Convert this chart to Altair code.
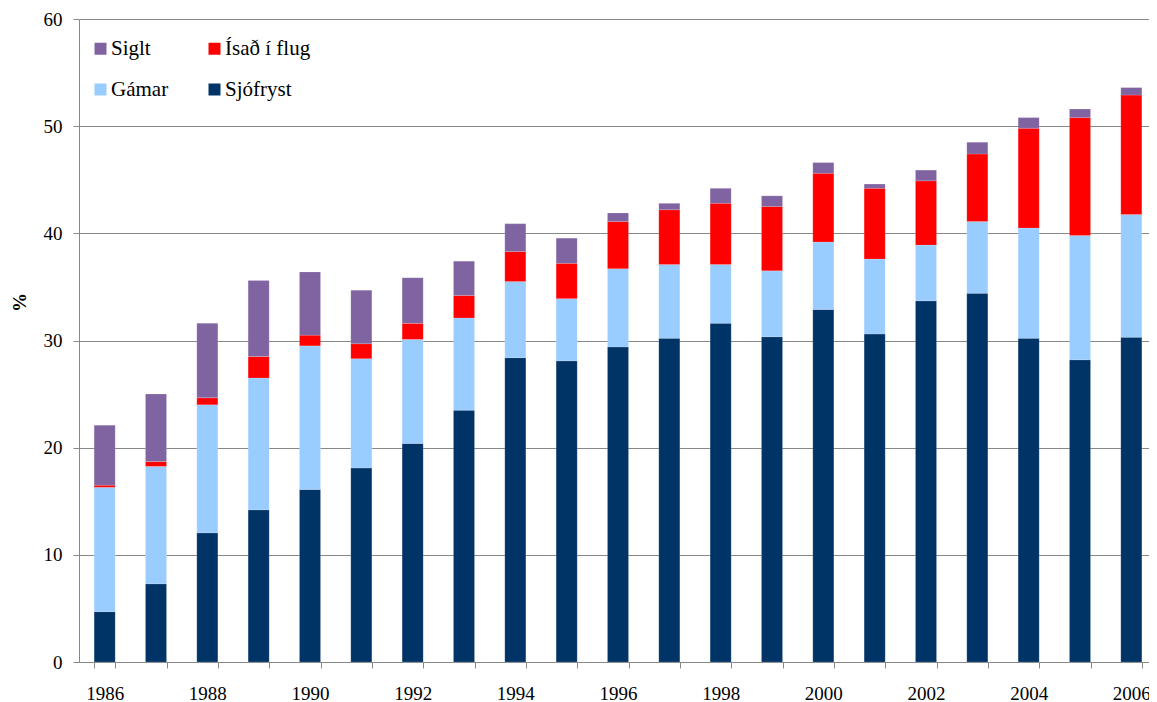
import altair as alt
import pandas as pd

years = list(range(1986, 2007))
sjofryst = [4.7, 7.3, 12.05, 14.2, 16.1, 18.1, 20.4, 23.5, 28.4, 28.1, 29.4,
            30.2, 31.6, 30.35, 32.9, 30.6, 33.7, 34.4, 30.2, 28.2, 30.3]
gamar = [11.6, 10.95, 11.95, 12.3, 13.4, 10.2, 9.7, 8.6, 7.1, 5.8, 7.3,
         6.9, 5.5, 6.15, 6.3, 7.0, 5.2, 6.7, 10.3, 11.6, 11.45]
isad = [0.2, 0.45, 0.65, 2.0, 1.0, 1.4, 1.5, 2.1, 2.8, 3.3, 4.4,
        5.1, 5.7, 6.0, 6.4, 6.6, 6.0, 6.3, 9.3, 11.0, 11.15]
siglt = [5.6, 6.3, 6.95, 7.1, 5.9, 5.0, 4.25, 3.2, 2.6, 2.35, 0.8,
         0.6, 1.4, 1.0, 1.0, 0.4, 1.0, 1.1, 1.0, 0.8, 0.7]

series_names = ["Sjófryst", "Gámar", "Ísað í flug", "Siglt"]
series_values = [sjofryst, gamar, isad, siglt]
# legend is filled column by column: column 1 = Siglt, Gámar; column 2 = Ísað í flug, Sjófryst
legend_order = ["Siglt", "Gámar", "Ísað í flug", "Sjófryst"]
legend_colors = ["#8064A2", "#99CCFF", "#FF0000", "#003366"]

rows = []
for rank, (name, vals) in enumerate(zip(series_names, series_values)):
    for yr, v in zip(years, vals):
        rows.append({"year": yr, "series": name, "value": v, "rank": rank})
df = pd.DataFrame(rows)

FONT = "Liberation Serif"

chart = alt.Chart(df).mark_bar(stroke="#ffffff", strokeOpacity=0.25, strokeWidth=0.6).encode(
    x=alt.X(
        "year:O",
        scale=alt.Scale(paddingInner=0.59, paddingOuter=0.295),
        axis=alt.Axis(
            title=None,
            labelAngle=0,
            labelExpr="datum.value % 2 == 0 ? datum.label : ''",
            labelOverlap=False,
            labelFont=FONT,
            labelFontSize=19,
            labelColor="#000000",
            labelPadding=16,
            tickBand="extent",
            tickSize=6,
            tickColor="#888888",
            domainColor="#888888",
            grid=False,
        ),
    ),
    y=alt.Y(
        "value:Q",
        stack="zero",
        scale=alt.Scale(domain=[0, 60], nice=False),
        axis=alt.Axis(
            title="%",
            titleFont=FONT,
            titleFontSize=19,
            titleFontWeight="bold",
            titleColor="#000000",
            titleX=-60,
            titleY=283,
            titleAngle=270,
            titleAlign="center",
            titleBaseline="middle",
            values=[0, 10, 20, 30, 40, 50, 60],
            labelFont=FONT,
            labelFontSize=19,
            labelColor="#000000",
            labelPadding=11,
            tickSize=6,
            tickColor="#888888",
            domainColor="#888888",
            grid=True,
            gridColor="#888888",
            gridWidth=1,
        ),
    ),
    color=alt.Color(
        "series:N",
        scale=alt.Scale(domain=legend_order, range=legend_colors),
        legend=alt.Legend(
            title=None,
            orient="none",
            legendX=11,
            legendY=19,
            columns=2,
            columnPadding=35,
            rowPadding=19,
            padding=0,
            symbolType="square",
            symbolSize=144,
            symbolStrokeWidth=0,
            labelFont=FONT,
            labelFontSize=21,
            labelColor="#000000",
            labelOffset=0,
        ),
    ),
    order=alt.Order("rank:Q", sort="ascending"),
).properties(
    width=1078,
    height=643,
    autosize=alt.AutoSizeParams(type="none"),
    padding={"left": 71, "top": 11, "right": -8, "bottom": 40},
).configure(background="#ffffff", font=FONT).configure_view(stroke=None)

chart.save("out.html", embed_options={"renderer": "svg", "actions": False})
